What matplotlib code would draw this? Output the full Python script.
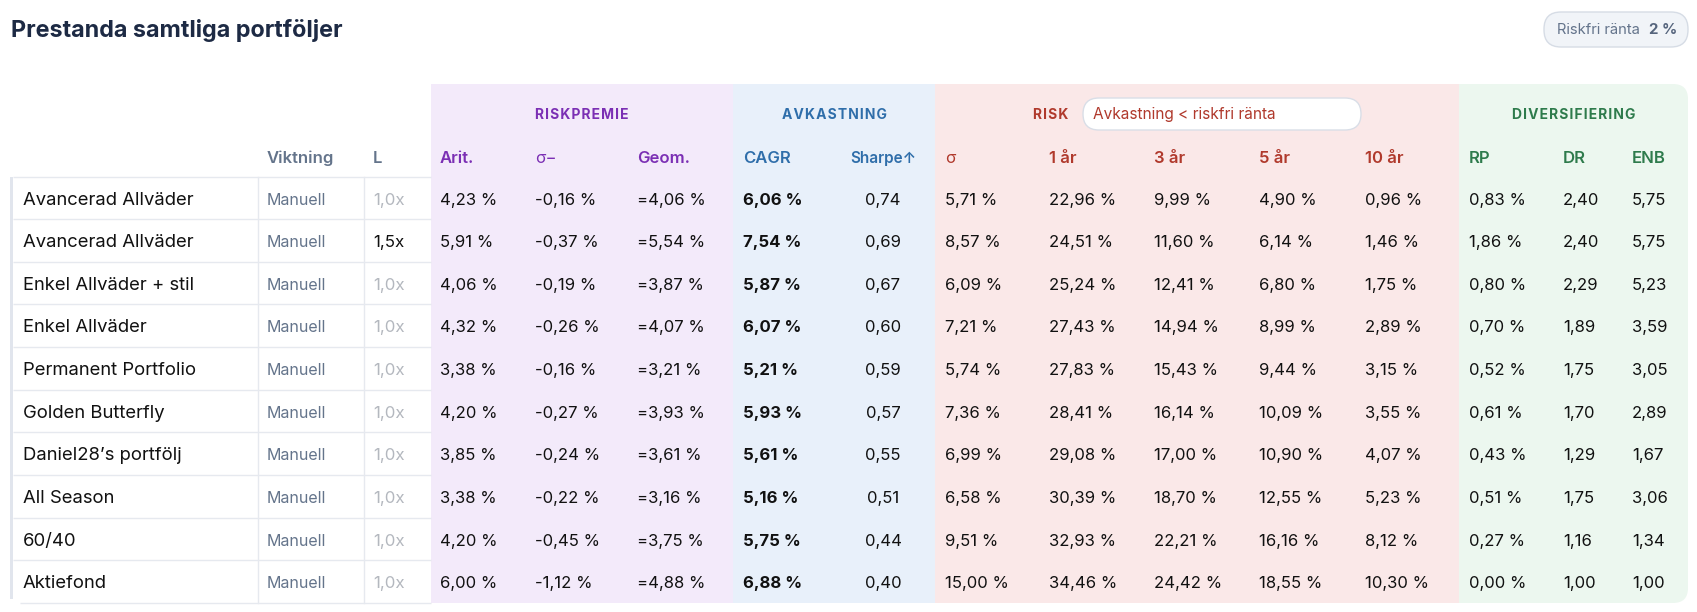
import matplotlib.pyplot as plt
from matplotlib.patches import Rectangle, FancyBboxPatch

plt.rcParams['font.family'] = ['Inter', 'DejaVu Sans']

# table data
names = ["Avancerad Allväder", "Avancerad Allväder", "Enkel Allväder + stil", "Enkel Allväder",
         "Permanent Portfolio", "Golden Butterfly", "Daniel28\u2019s portfölj", "All Season",
         "60/40", "Aktiefond"]
weighting = ["Manuell"] * 10
leverage = ["1,0x", "1,5x", "1,0x", "1,0x", "1,0x", "1,0x", "1,0x", "1,0x", "1,0x", "1,0x"]
arit = [4.23, 5.91, 4.06, 4.32, 3.38, 4.20, 3.85, 3.38, 4.20, 6.00]
sigma_minus = [-0.16, -0.37, -0.19, -0.26, -0.16, -0.27, -0.24, -0.22, -0.45, -1.12]
geom = [4.06, 5.54, 3.87, 4.07, 3.21, 3.93, 3.61, 3.16, 3.75, 4.88]
cagr = [6.06, 7.54, 5.87, 6.07, 5.21, 5.93, 5.61, 5.16, 5.75, 6.88]
sharpe = [0.74, 0.69, 0.67, 0.60, 0.59, 0.57, 0.55, 0.51, 0.44, 0.40]
sigma = [5.71, 8.57, 6.09, 7.21, 5.74, 7.36, 6.99, 6.58, 9.51, 15.00]
risk_1y = [22.96, 24.51, 25.24, 27.43, 27.83, 28.41, 29.08, 30.39, 32.93, 34.46]
risk_3y = [9.99, 11.60, 12.41, 14.94, 15.43, 16.14, 17.00, 18.70, 22.21, 24.42]
risk_5y = [4.90, 6.14, 6.80, 8.99, 9.44, 10.09, 10.90, 12.55, 16.16, 18.55]
risk_10y = [0.96, 1.46, 1.75, 2.89, 3.15, 3.55, 4.07, 5.23, 8.12, 10.30]
rp = [0.83, 1.86, 0.80, 0.70, 0.52, 0.61, 0.43, 0.51, 0.27, 0.00]
dr = [2.40, 2.40, 2.29, 1.89, 1.75, 1.70, 1.29, 1.75, 1.16, 1.00]
enb = [5.75, 5.75, 5.23, 3.59, 3.05, 2.89, 1.67, 3.06, 1.34, 1.00]

groups = ["RISKPREMIE", "AVKASTNING", "RISK", "DIVERSIFIERING"]
col_headers = ["Viktning", "L", "Arit.", "\u03c3\u2212", "Geom.", "CAGR", "Sharpe\u2191",
               "\u03c3", "1 år", "3 år", "5 år", "10 år", "RP", "DR", "ENB"]
risk_free = "2 %"


def pct(v, prefix=""):
    return prefix + f"{v:.2f}".replace(".", ",") + " %"


def num(v):
    return f"{v:.2f}".replace(".", ",")


def spaced(s):
    return "\u200a".join(s)


PURPLE, BLUE, RED, GREEN = "#7b2fb4", "#2f6eaa", "#b0392c", "#2e7b4c"
SLATE = "#64748b"

fig = plt.figure(figsize=(16.97, 6.12), dpi=100)
ax = fig.add_axes([0, 0, 1, 1])
ax.set_xlim(0, 1697)
ax.set_ylim(612, 0)
ax.axis("off")

# layout
top, bottom = 84, 603
row_top, row_h = 176.5, 42.65
sections = [(431, 733, "#f3eafa", PURPLE), (733, 935, "#e8f0fa", BLUE),
            (935, 1459, "#fae8e8", RED), (1459, 1688, "#ecf7ef", GREEN)]

for x0, x1, bg, _ in sections[:3]:
    ax.add_patch(Rectangle((x0, top), x1 - x0, bottom - top, color=bg, lw=0, zorder=0))
gx0, gx1, gbg, _ = sections[3]
ax.add_patch(FancyBboxPatch((gx0, top), gx1 - gx0, bottom - top,
                            boxstyle="round,pad=0,rounding_size=15", color=gbg, lw=0, zorder=0))
ax.add_patch(Rectangle((gx0, top), 40, bottom - top, color=gbg, lw=0, zorder=0))

# title and badge
ax.text(11, 31, "Prestanda samtliga portföljer", fontsize=16.8, fontweight="bold",
        color="#1d2a44", va="center", ha="left")
ax.add_patch(FancyBboxPatch((1544, 12), 144, 35, boxstyle="round,pad=0,rounding_size=17",
                            fc="#f1f4f8", ec="#d6dce5", lw=1))
ax.text(1557, 30, "Riskfri ränta", fontsize=10.6, color=SLATE, va="center", ha="left")
ax.text(1649, 30, risk_free, fontsize=10.8, fontweight="bold", color="#56657d",
        va="center", ha="left")

# group headers
group_y = 115
ax.text(582, group_y, spaced(groups[0]), fontsize=10, fontweight="bold", color=PURPLE,
        ha="center", va="center")
ax.text(834, group_y, spaced(groups[1]), fontsize=10, fontweight="bold", color=BLUE,
        ha="center", va="center")
ax.text(1033, group_y, spaced(groups[2]), fontsize=10, fontweight="bold", color=RED,
        ha="left", va="center")
ax.add_patch(FancyBboxPatch((1083, 98), 278, 32, boxstyle="round,pad=0,rounding_size=16",
                            fc="white", ec="#d9dee7", lw=1))
ax.text(1093, group_y, "Avkastning < riskfri ränta", fontsize=11.1, color=RED,
        ha="left", va="center")
ax.text(1574, group_y, spaced(groups[3]), fontsize=10, fontweight="bold", color=GREEN,
        ha="center", va="center")

# column headers: x, alignment, colour
col_x = [267, 373, 440, 535, 637, 743, 883, 945, 1049, 1154, 1259, 1365, 1469, 1563, 1632]
col_ha = ["left"] * 6 + ["center"] + ["left"] * 8
col_color = [SLATE, SLATE] + [PURPLE] * 3 + [BLUE] * 2 + [RED] * 5 + [GREEN] * 3
head_y = 158.5
for x, ha, c, lab in zip(col_x, col_ha, col_color, col_headers):
    w = "normal" if lab.startswith("\u03c3") else "semibold"
    size = 11 if lab.startswith("Sharpe") else 12
    ax.text(x, head_y, lab, fontsize=size, fontweight=w, color=c, ha=ha, va="center")

# rows
n = len(names)
line_c = "#e6e9ef"
ax.add_patch(Rectangle((10, row_top), 3, n * row_h - 4, color="#e1e5ed", lw=0))
for i in range(n + 1):
    y = row_top + i * row_h
    ax.plot([13 if i < n else 20, 431], [y, y], color=line_c, lw=1, solid_capstyle="butt")
for x in (257.5, 363.5):
    ax.plot([x, x], [row_top, row_top + n * row_h], color=line_c, lw=1)

columns = [weighting, leverage,
           [pct(v) for v in arit], [pct(v) for v in sigma_minus], [pct(v, "=") for v in geom],
           [pct(v) for v in cagr], [num(v) for v in sharpe],
           [pct(v) for v in sigma], [pct(v) for v in risk_1y], [pct(v) for v in risk_3y],
           [pct(v) for v in risk_5y], [pct(v) for v in risk_10y],
           [pct(v) for v in rp], [num(v) for v in dr], [num(v) for v in enb]]

for i in range(n):
    yc = row_top + (i + 0.5) * row_h + 2.2
    ax.text(23, yc, names[i], fontsize=13.3, color="#111111", ha="left", va="center")
    for j, (x, ha, vals) in enumerate(zip(col_x, col_ha, columns)):
        s = vals[i]
        color, size, weight = "#111111", 12, "normal"
        if j == 0:
            color, size = SLATE, 11.5
        elif j == 1:
            color = "#111111" if s != "1,0x" else "#b4b8bf"
            size = 12.2
        elif j == 5:
            weight = "bold"
        ax.text(x, yc, s, fontsize=size, color=color, fontweight=weight, ha=ha, va="center")

fig.savefig("out.png", dpi=100, facecolor="white")
